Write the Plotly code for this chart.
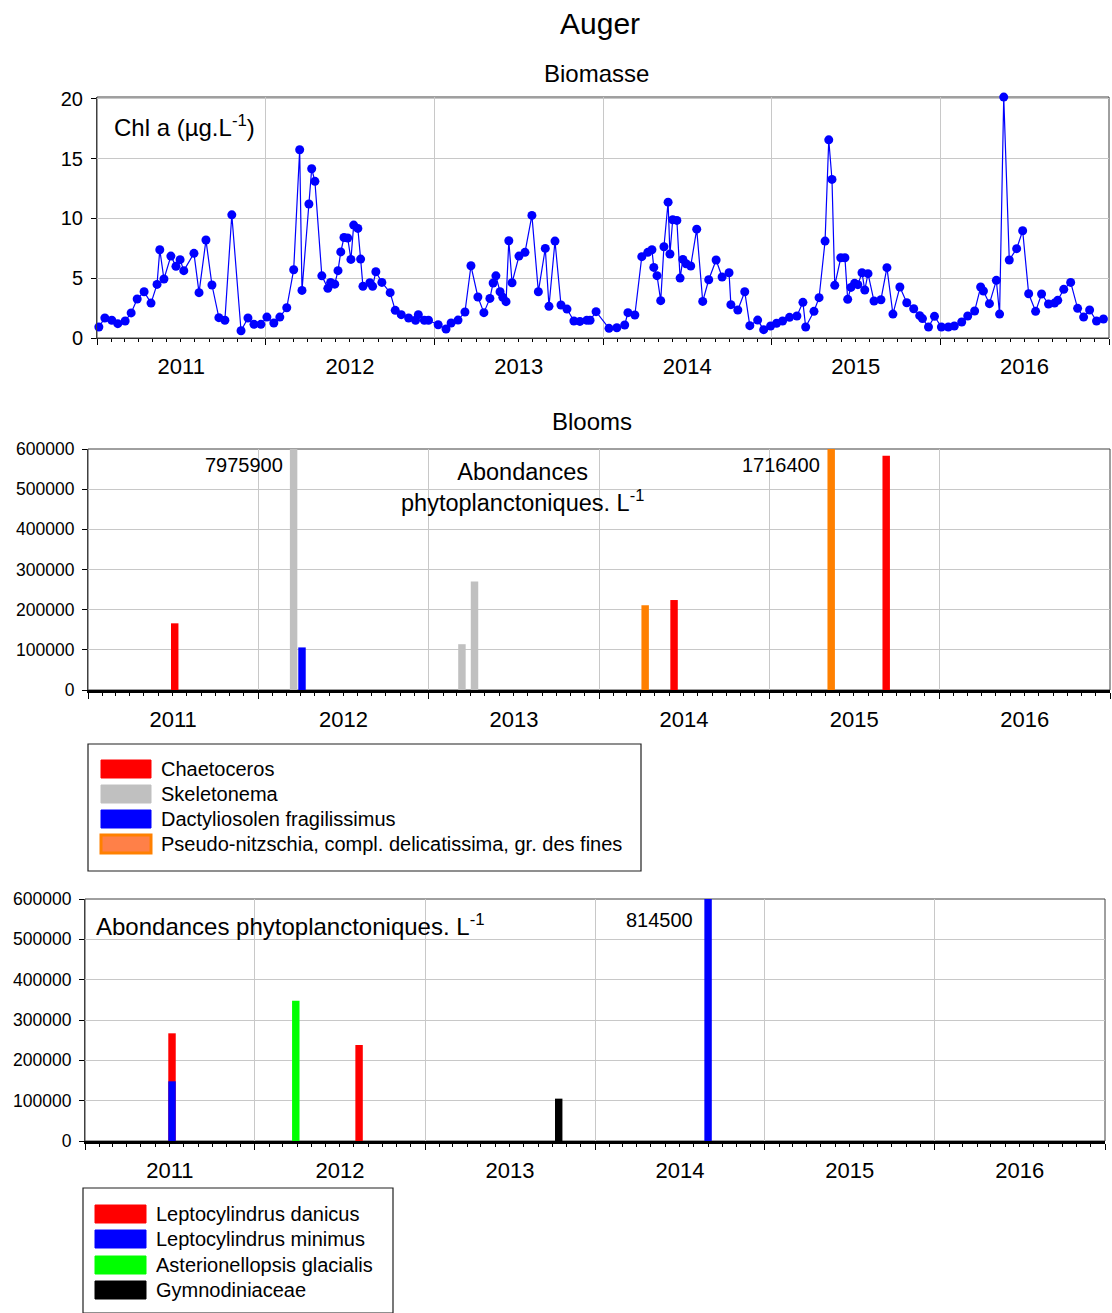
import plotly.graph_objects as go

# ---------------- DATA ----------------
chl_dates = [
    "2011-01-05", "2011-01-18", "2011-02-02", "2011-02-15", "2011-03-03", "2011-03-16", "2011-03-29",
    "2011-04-13", "2011-04-28", "2011-05-11", "2011-05-17", "2011-05-26", "2011-06-10", "2011-06-21",
    "2011-06-30", "2011-07-08", "2011-07-30", "2011-08-10", "2011-08-25", "2011-09-07", "2011-09-22",
    "2011-10-05", "2011-10-20", "2011-11-09", "2011-11-24", "2011-12-07", "2011-12-22",
    "2012-01-04", "2012-01-19", "2012-02-01", "2012-02-16", "2012-03-02", "2012-03-15", "2012-03-20",
    "2012-04-04", "2012-04-10", "2012-04-17", "2012-05-02", "2012-05-15", "2012-05-21", "2012-05-30",
    "2012-06-06", "2012-06-12", "2012-06-19", "2012-06-27", "2012-07-04", "2012-07-10", "2012-07-19",
    "2012-07-25", "2012-07-30", "2012-08-14", "2012-08-20", "2012-08-27", "2012-09-09", "2012-09-27",
    "2012-10-08", "2012-10-21", "2012-11-06", "2012-11-21", "2012-11-27", "2012-12-10", "2012-12-19",
    "2013-01-09", "2013-01-26", "2013-02-06", "2013-02-21", "2013-03-08", "2013-03-21", "2013-04-05",
    "2013-04-18", "2013-05-01", "2013-05-08", "2013-05-14", "2013-05-23", "2013-05-29", "2013-06-05",
    "2013-06-11", "2013-06-18", "2013-07-03", "2013-07-16", "2013-07-31", "2013-08-14", "2013-08-29",
    "2013-09-06", "2013-09-19", "2013-10-02", "2013-10-15", "2013-10-30", "2013-11-12", "2013-11-27",
    "2013-12-04", "2013-12-17",
    "2014-01-14", "2014-01-31", "2014-02-17", "2014-02-24", "2014-03-11", "2014-03-26", "2014-04-08",
    "2014-04-17", "2014-04-21", "2014-04-28", "2014-05-06", "2014-05-13", "2014-05-22", "2014-05-26",
    "2014-06-01", "2014-06-10", "2014-06-17", "2014-06-23", "2014-06-30", "2014-07-10", "2014-07-23",
    "2014-08-05", "2014-08-18", "2014-09-03", "2014-09-16", "2014-10-01", "2014-10-05", "2014-10-20",
    "2014-11-04", "2014-11-15", "2014-12-02", "2014-12-15", "2014-12-30",
    "2015-01-12", "2015-01-25", "2015-02-09", "2015-02-25", "2015-03-10", "2015-03-16", "2015-04-03",
    "2015-04-14", "2015-04-27", "2015-05-05", "2015-05-12", "2015-05-18", "2015-05-31", "2015-06-09",
    "2015-06-15", "2015-06-22", "2015-06-30", "2015-07-07", "2015-07-16", "2015-07-22", "2015-07-29",
    "2015-08-11", "2015-08-26", "2015-09-08", "2015-09-21", "2015-10-06", "2015-10-21", "2015-11-05",
    "2015-11-18", "2015-11-24", "2015-12-07", "2015-12-20",
    "2016-01-04", "2016-01-19", "2016-02-01", "2016-02-17", "2016-03-01", "2016-03-16", "2016-03-29",
    "2016-04-04", "2016-04-17", "2016-05-02", "2016-05-09", "2016-05-18", "2016-05-30", "2016-06-15",
    "2016-06-28", "2016-07-11", "2016-07-26", "2016-08-08", "2016-08-23", "2016-09-05", "2016-09-12",
    "2016-09-25", "2016-10-10", "2016-10-25", "2016-11-07", "2016-11-20", "2016-12-05", "2016-12-20",
]
chl_values = [
    0.92, 1.67, 1.48, 1.20, 1.42, 2.10, 3.26,
    3.87, 2.92, 4.48, 7.38, 4.93, 6.85, 5.99,
    6.55, 5.63, 7.08, 3.79, 8.19, 4.43, 1.70,
    1.48, 10.30, 0.61, 1.67, 1.14, 1.14,
    1.75, 1.25, 1.75, 2.53, 5.71, 15.74, 3.98,
    11.20, 14.15, 13.10, 5.20, 4.15, 4.65, 4.50,
    5.63, 7.20, 8.40, 8.36, 6.57, 9.44, 9.16,
    6.60, 4.32, 4.62, 4.32, 5.54, 4.65, 3.79,
    2.31, 1.95, 1.67, 1.48, 1.95, 1.48, 1.48,
    1.11, 0.75, 1.25, 1.50, 2.17, 6.04, 3.43,
    2.12, 3.31, 4.60, 5.20, 3.87, 3.40, 3.04,
    8.13, 4.62, 6.85, 7.16, 10.25, 3.87, 7.49,
    2.65, 8.10, 2.76, 2.42, 1.42, 1.39, 1.48,
    1.48, 2.20,
    0.81, 0.86, 1.09, 2.12, 1.92, 6.80, 7.16,
    7.38, 5.90, 5.21, 3.12, 7.63, 11.36, 7.02,
    9.89, 9.83, 5.01, 6.57, 6.21, 6.02, 9.10,
    3.06, 4.87, 6.52, 5.10, 5.46, 2.79, 2.34,
    3.87, 1.03, 1.50, 0.70, 1.00,
    1.23, 1.42, 1.73, 1.84, 2.98, 0.92, 2.23,
    3.37, 8.10, 16.57, 13.26, 4.40, 6.71, 6.71,
    3.23, 4.23, 4.57, 4.46, 5.46, 4.01, 5.38,
    3.09, 3.20, 5.88, 2.00, 4.26, 2.95, 2.45,
    1.87, 1.62, 0.92, 1.81,
    0.92, 0.92, 1.00, 1.34, 1.84, 2.26, 4.26,
    3.93, 2.87, 4.82, 2.00, 20.14, 6.52, 7.47,
    8.97, 3.70, 2.23, 3.68, 2.84, 2.92, 3.15,
    4.07, 4.65, 2.48, 1.75, 2.34, 1.42, 1.59,
]

# Blooms (middle chart)
bloom_names = ["Chaetoceros", "Skeletonema", "Dactyliosolen fragilissimus",
               "Pseudo-nitzschia, compl. delicatissima, gr. des fines"]
bloom_colors = ["#FF0000", "#C0C0C0", "#0000FF", "#FF8000"]
chaetoceros_dates = ["2011-07-06", "2014-06-11", "2015-09-09"]
chaetoceros_values = [166000, 224000, 583000]
skeletonema_dates = ["2012-03-17", "2013-03-13", "2013-04-09"]
skeletonema_values = [7975900, 114000, 270000]
dactyliosolen_dates = ["2012-04-04"]
dactyliosolen_values = [106000]
pseudonitzschia_dates = ["2014-04-10", "2015-05-14"]
pseudonitzschia_values = [211000, 1716400]

# Bottom chart
other_names = ["Leptocylindrus danicus", "Leptocylindrus minimus",
               "Asterionellopsis glacialis", "Gymnodiniaceae"]
other_colors = ["#FF0000", "#0000FF", "#00FF00", "#000000"]
ldanicus_dates = ["2011-07-07", "2012-08-12"]
ldanicus_values = [267000, 238000]
lminimus_dates = ["2011-07-07", "2014-09-01"]
lminimus_values = [148000, 814500]
asterionellopsis_dates = ["2012-03-29"]
asterionellopsis_values = [348000]
gymnodiniaceae_dates = ["2013-10-15"]
gymnodiniaceae_values = [105000]

year_range = ["2011-01-01", "2017-01-01"]
chl_ymax = 20.15
abund_ymax = 600000

# ---------------- LAYOUT HELPERS ----------------
W, H = 1112, 1313
FONT = "Liberation Sans, Arial, sans-serif"


def px(x):
    return min(1.0, max(0.0, x / W))


def py(y):
    return min(1.0, max(0.0, 1 - y / H))


BAR_MS = 16 * 86400000

fig = go.Figure()

fig.add_trace(go.Scatter(
    x=chl_dates, y=chl_values, mode="lines+markers",
    line=dict(color="#0000FF", width=1.2),
    marker=dict(color="#0000FF", size=9),
    xaxis="x", yaxis="y", cliponaxis=False, showlegend=False,
))

bloom_series = [
    (chaetoceros_dates, chaetoceros_values),
    (skeletonema_dates, skeletonema_values),
    (dactyliosolen_dates, dactyliosolen_values),
    (pseudonitzschia_dates, pseudonitzschia_values),
]
other_series = [
    (ldanicus_dates, ldanicus_values),
    (lminimus_dates, lminimus_values),
    (asterionellopsis_dates, asterionellopsis_values),
    (gymnodiniaceae_dates, gymnodiniaceae_values),
]

annotations = []

for (dates, vals), name, col in zip(bloom_series, bloom_names, bloom_colors):
    fig.add_trace(go.Bar(x=dates, y=vals, name=name, width=[BAR_MS] * len(dates),
                         marker=dict(color=col, line=dict(width=0)),
                         xaxis="x2", yaxis="y2", showlegend=False))
    for d, v in zip(dates, vals):
        if v > abund_ymax:
            annotations.append(dict(x=d, y=abund_ymax, xref="x2", yref="y2", text=str(v),
                                    xanchor="right", yanchor="middle", xshift=-9, yshift=-16,
                                    showarrow=False, font=dict(size=20, color="black", family=FONT)))

for (dates, vals), name, col in zip(other_series, other_names, other_colors):
    fig.add_trace(go.Bar(x=dates, y=vals, name=name, width=[BAR_MS] * len(dates),
                         marker=dict(color=col, line=dict(width=0)),
                         xaxis="x3", yaxis="y3", showlegend=False))
    for d, v in zip(dates, vals):
        if v > abund_ymax:
            annotations.append(dict(x=d, y=abund_ymax, xref="x3", yref="y3", text=str(v),
                                    xanchor="right", yanchor="middle", xshift=-13, yshift=-21,
                                    showarrow=False, font=dict(size=20, color="black", family=FONT)))


def xaxis_cfg(domain, anchor, linewidth, linecolor):
    return dict(
        type="date", range=year_range, domain=domain, anchor=anchor, automargin=False,
        tick0="2011-01-01", dtick="M12", ticklabelmode="period", tickformat="%Y",
        ticks="outside", ticklen=6, tickcolor="black", tickwidth=1,
        ticklabelstandoff=2,
        showgrid=True, gridcolor="#C8C8C8", gridwidth=1,
        minor=dict(dtick="M1", ticks="outside", ticklen=3, tickcolor="black", showgrid=False),
        showline=True, linecolor=linecolor, linewidth=linewidth, zeroline=False,
        tickfont=dict(size=22, color="black", family=FONT), fixedrange=True,
    )


def yaxis_cfg(domain, anchor, rng, dtick, fontsize):
    return dict(
        range=rng, domain=domain, anchor=anchor, tick0=0, dtick=dtick, tickformat="d",
        automargin=False,
        ticks="outside", ticklen=5, tickcolor="black",
        ticklabelstandoff=4,
        showgrid=True, gridcolor="#C8C8C8", gridwidth=1,
        showline=True, linecolor="#404040", linewidth=1, zeroline=False,
        tickfont=dict(size=fontsize, color="black", family=FONT), fixedrange=True,
    )


fig.update_layout(
    xaxis=xaxis_cfg([px(97), px(1109)], "y", 1.2, "#303030"),
    yaxis=yaxis_cfg([py(338), py(97)], "x", [0, chl_ymax], 5, 20),
    xaxis2=xaxis_cfg([px(88), px(1110)], "y2", 2.5, "black"),
    yaxis2=yaxis_cfg([py(690), py(449)], "x2", [0, abund_ymax], 100000, 17.5),
    xaxis3=xaxis_cfg([px(85), px(1105)], "y3", 2.5, "black"),
    yaxis3=yaxis_cfg([py(1141), py(899)], "x3", [0, abund_ymax], 100000, 17.5),
)

shapes = []
for xa, ya in [("x", "y"), ("x2", "y2"), ("x3", "y3")]:
    shapes.append(dict(type="rect", xref=xa + " domain", yref=ya + " domain",
                       x0=0, x1=1, y0=0, y1=1, line=dict(color="#404040", width=1),
                       fillcolor="rgba(0,0,0,0)", layer="below"))


def text_ann(x, y, text, size, xanchor="center"):
    return dict(x=px(x), y=py(y), xref="paper", yref="paper", text=text, showarrow=False,
                xanchor=xanchor, yanchor="middle", font=dict(size=size, color="black", family=FONT))


annotations += [
    text_ann(600, 23, "Auger", 30),
    text_ann(596, 73, "Biomasse", 24),
    text_ann(592, 421, "Blooms", 24),
    text_ann(112, 126, "Chl a (µg.L<sup>-1</sup>)", 24, "left"),
    text_ann(522, 487, "Abondances<br>phytoplanctoniques. L<sup>-1</sup>", 23.5),
    text_ann(94, 925, "Abondances phytoplanctoniques. L<sup>-1</sup>", 24, "left"),
]


# legend boxes (drawn as layout shapes + text)
def legend_box(x0, x1, y0, y1, names, colors, rows, sw_x0, sw_x1, text_x, font_size):
    shapes.append(dict(type="rect", xref="paper", yref="paper", x0=px(x0), x1=px(x1),
                       y0=py(y1), y1=py(y0), line=dict(color="#202020", width=1.2),
                       fillcolor="white"))
    for name, col, ry in zip(names, colors, rows):
        fill = col
        lw = 1
        if col == "#FF8000":
            fill = "#FF8048"
            lw = 3
        shapes.append(dict(type="rect", xref="paper", yref="paper",
                           x0=px(sw_x0), x1=px(sw_x1), y0=py(ry + 9), y1=py(ry - 9),
                           line=dict(color=col, width=lw), fillcolor=fill))
        annotations.append(dict(x=px(text_x), y=py(ry), xref="paper", yref="paper", text=name,
                                showarrow=False, xanchor="left", yanchor="middle",
                                font=dict(size=font_size, color="black", family=FONT)))


legend_box(88, 641, 744, 871, bloom_names, bloom_colors, [769, 794, 819, 844], 101, 151, 159, 20)
legend_box(83, 393, 1188, 1330, other_names, other_colors, [1214, 1239, 1265, 1290], 95, 146, 154, 20)

fig.update_layout(
    width=W, height=H, margin=dict(l=0, r=0, t=0, b=0, autoexpand=False),
    paper_bgcolor="white", plot_bgcolor="white",
    barmode="overlay", showlegend=False,
    font=dict(family=FONT, color="black"),
    annotations=annotations, shapes=shapes,
)

fig.write_html(
    "out.html",
    config={"displayModeBar": False},
    post_script="document.body.style.margin='0';document.body.style.overflow='hidden';",
)
